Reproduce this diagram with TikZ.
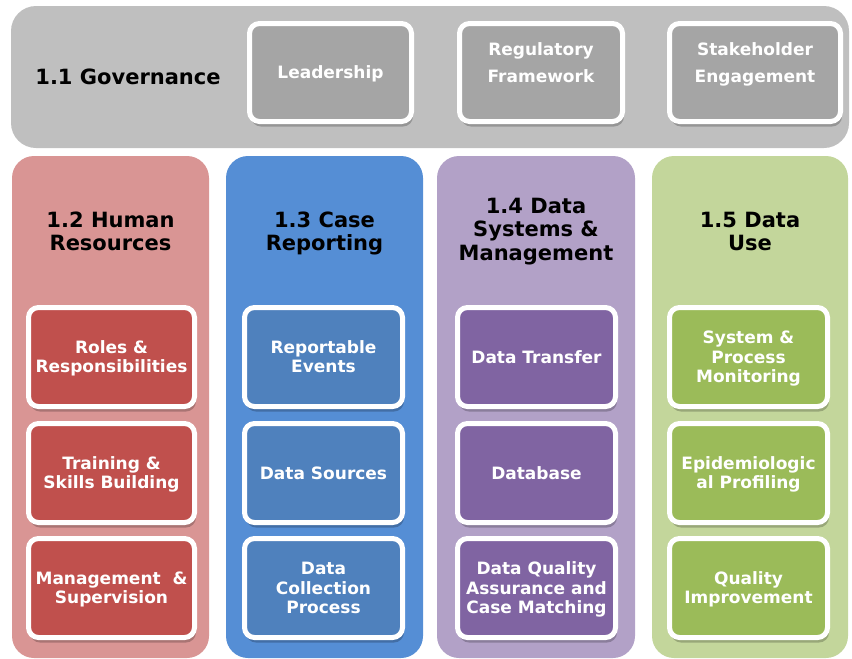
\documentclass[tikz,border=0pt]{standalone}
\usepackage{fontspec}
\setmainfont{DejaVu Sans}
\usetikzlibrary{shadows}

\definecolor{govback}{HTML}{BFBFBF}
\definecolor{govbox}{HTML}{A5A5A5}
\definecolor{hrback}{HTML}{D99594}
\definecolor{hrbox}{HTML}{C0504D}
\definecolor{crback}{HTML}{558ED5}
\definecolor{crbox}{HTML}{4F81BD}
\definecolor{dsback}{HTML}{B2A1C7}
\definecolor{dsbox}{HTML}{8064A2}
\definecolor{duback}{HTML}{C3D69B}
\definecolor{dubox}{HTML}{9BBB59}

% struts giving every text block the same top and bottom margins
\newcommand\ctop{\rule{0pt}{16pt}}
\newcommand\cbot{\rule[-4pt]{0pt}{4pt}}
\newcommand\htop{\rule{0pt}{18pt}}

\tikzset{
  panel/.style={rounded corners=22pt, inner sep=0pt, outer sep=0pt},
  cellbox/.style={rounded corners=10pt, draw=white, line width=5pt,
    inner sep=0pt, outer sep=0pt, text=white, align=center,
    font=\fontsize{17}{19.5}\selectfont\bfseries,
    drop shadow={shadow xshift=1.5pt, shadow yshift=-5pt, opacity=0.22, fill=black}},
  celltext/.style={text=white, align=center, inner sep=0pt,
    font=\fontsize{17}{27}\selectfont\bfseries},
  head/.style={align=center, inner sep=0pt, text=black, anchor=north,
    font=\fontsize{21}{23.5}\selectfont\bfseries},
}

% rounded block given by its outer corners: name, x1, y1, x2, y2, style, text
\newcommand\block[7]{%
  \node[#6, minimum width={#4pt-#2pt}, minimum height={#5pt-#3pt}]
    (#1) at ({(#2+#4)/2},{(#3+#5)/2}) {#7};}
% white-framed cell given by the outer edge of its frame
\newcommand\cellnode[7]{%
  \node[cellbox, fill=#6, minimum width={#4pt-#2pt-5pt}, minimum height={#5pt-#3pt-5pt}]
    (#1) at ({(#2+#4)/2},{(#3+#5)/2}) {\ctop#7\cbot};}

\begin{document}
\begin{tikzpicture}[x=1pt, y=-1pt]
\useasboundingbox (0,0) rectangle (852,659);

% 1.1 Governance band
\block{gov}{11}{6}{849}{148}{panel, fill=govback, rounded corners=25pt}{}
\node[head, anchor=center] (govtitle) at (128,77) {1.1 Governance};
\cellnode{lead}{247}{21}{414}{124}{govbox}{Leadership}
\cellnode{reg}{457}{21}{625}{124}{govbox}{}
\node[celltext] (regtext) at ([yshift=10pt]reg.center) {\ctop Regulatory\\Framework\cbot};
\cellnode{stake}{667}{21}{843}{124}{govbox}{}
\node[celltext] (staketext) at ([yshift=10pt]stake.center) {\ctop Stakeholder\\Engagement\cbot};

% 1.2 Human Resources
\block{hr}{12}{156}{209}{658}{panel, fill=hrback}{}
\node[head] (hrtitle) at (110.5,209) {\htop 1.2 Human\\Resources};
\cellnode{roles}{26}{305}{197}{409}{hrbox}{Roles \&\\Responsibilities}
\cellnode{train}{26}{421}{197}{525}{hrbox}{Training \&\\Skills Building}
\cellnode{manage}{26}{536}{197}{640}{hrbox}{Management~~\&\\Supervision}

% 1.3 Case Reporting
\block{cr}{226}{156}{423}{658}{panel, fill=crback}{}
\node[head] (crtitle) at (324.5,209) {\htop 1.3 Case\\Reporting};
\cellnode{events}{242}{305}{405}{409}{crbox}{Reportable\\Events}
\cellnode{sources}{242}{421}{405}{525}{crbox}{Data Sources}
\cellnode{collect}{242}{536}{405}{640}{crbox}{Data\\Collection\\Process}

% 1.4 Data Systems & Management
\block{ds}{437}{156}{635}{658}{panel, fill=dsback}{}
\node[head] (dstitle) at (536,195) {\htop 1.4 Data\\Systems \&\\Management};
\cellnode{transfer}{455}{305}{618}{409}{dsbox}{Data Transfer}
\cellnode{database}{455}{421}{618}{525}{dsbox}{Database}
\cellnode{quality}{455}{536}{618}{640}{dsbox}{Data Quality\\Assurance and\\Case Matching}

% 1.5 Data Use
\block{du}{652}{156}{848}{658}{panel, fill=duback}{}
\node[head] (dutitle) at (750,209) {\htop 1.5 Data\\Use};
\cellnode{monitor}{667}{305}{830}{409}{dubox}{System \&\\Process\\Monitoring}
\cellnode{epi}{667}{421}{830}{525}{dubox}{Epidemiologic\\al Profiling}
\cellnode{improve}{667}{536}{830}{640}{dubox}{Quality\\Improvement}
\end{tikzpicture}
\end{document}
